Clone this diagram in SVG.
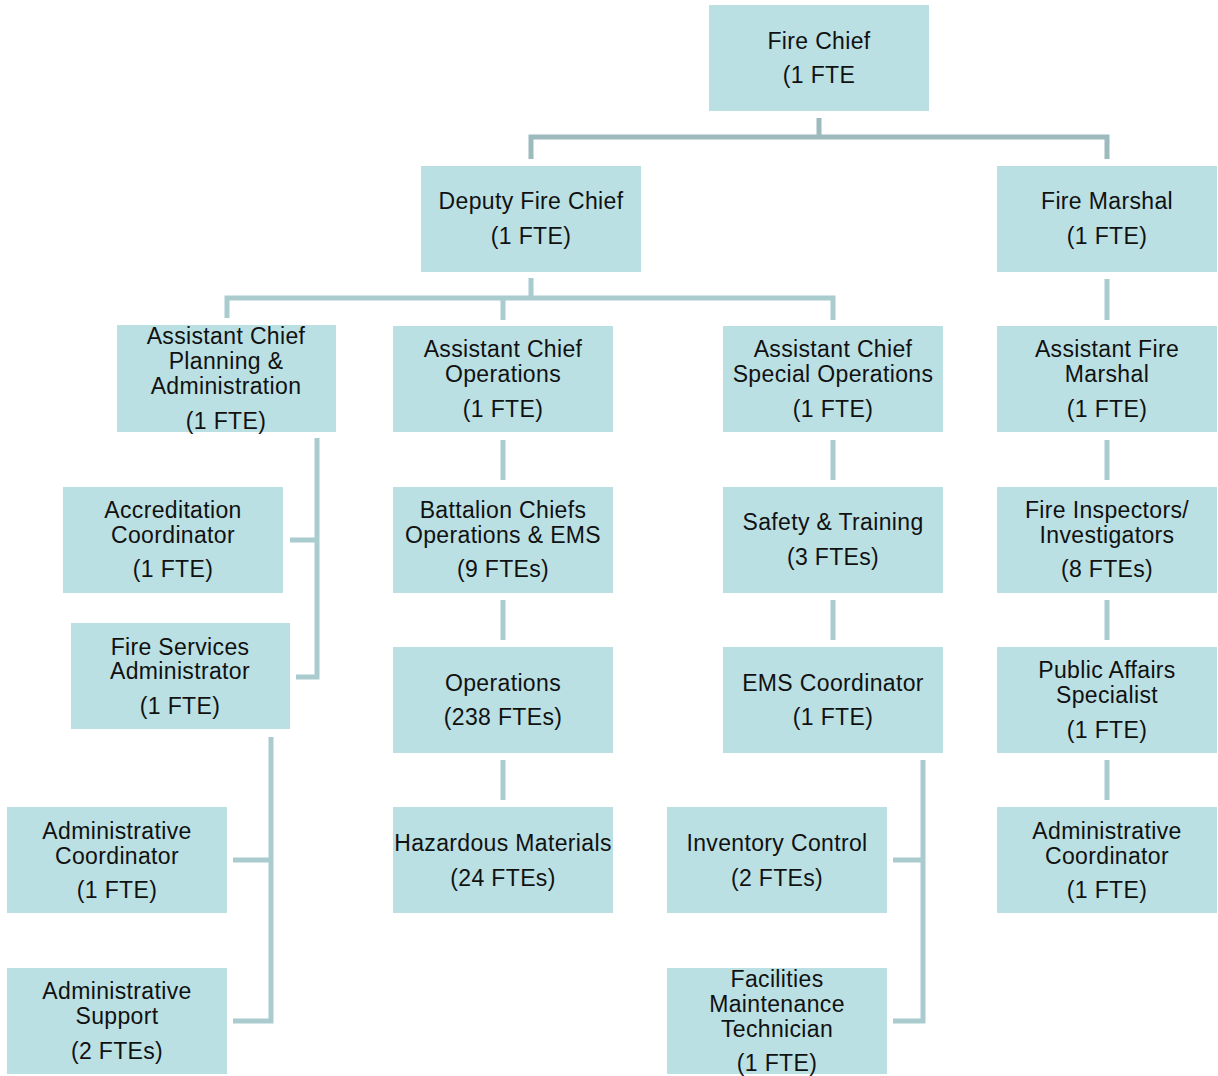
<svg xmlns="http://www.w3.org/2000/svg" width="1218" height="1076" viewBox="0 0 1218 1076">
<style>
.b{fill:#bae0e3}
.t{font-family:"Liberation Sans",Arial,sans-serif;font-size:23px;letter-spacing:0.35px;fill:#111;text-anchor:middle}
.c{fill:none;stroke:#aacccf;stroke-width:5}
.c0{fill:none;stroke:#9dbabe;stroke-width:5}
</style>
<rect width="1218" height="1076" fill="#fff"/>
<g id="connectors">
<path class="c0" d="M819 118V137M531 159V137H1107V159"/>
<path class="c" d="M531 278V298M227 318V298H833V320M503 298V320"/>
<path class="c" d="M1107 279V320M1107 440V480M1107 600V640M1107 760V800"/>
<path class="c" d="M503 440V480M503 600V640M503 760V800"/>
<path class="c" d="M833 440V480M833 600V640"/>
<path class="c" d="M317 438V677H296M317 540H290"/>
<path class="c" d="M271 737V1021H233M271 860H233"/>
<path class="c" d="M923 760V1021H893M923 860H893"/>
</g>
<g id="fire-chief"><rect class="b" x="709" y="5" width="220" height="106"/><text class="t" x="819" y="49">Fire Chief</text><text class="t" x="819" y="83">(1 FTE</text></g>
<g id="deputy-fire-chief"><rect class="b" x="421" y="166" width="220" height="106"/><text class="t" x="531" y="209">Deputy Fire Chief</text><text class="t" x="531" y="244">(1 FTE)</text></g>
<g id="fire-marshal"><rect class="b" x="997" y="166" width="220" height="106"/><text class="t" x="1107" y="209">Fire Marshal</text><text class="t" x="1107" y="244">(1 FTE)</text></g>
<g id="ac-planning"><rect class="b" x="117" y="325" width="219" height="107"/><text class="t" x="226" y="344">Assistant Chief</text><text class="t" x="226" y="369">Planning &amp;</text><text class="t" x="226" y="394">Administration</text><text class="t" x="226" y="429">(1 FTE)</text></g>
<g id="ac-operations"><rect class="b" x="393" y="326" width="220" height="106"/><text class="t" x="503" y="357">Assistant Chief</text><text class="t" x="503" y="382">Operations</text><text class="t" x="503" y="417">(1 FTE)</text></g>
<g id="ac-special"><rect class="b" x="723" y="326" width="220" height="106"/><text class="t" x="833" y="357">Assistant Chief</text><text class="t" x="833" y="382">Special Operations</text><text class="t" x="833" y="417">(1 FTE)</text></g>
<g id="asst-fire-marshal"><rect class="b" x="997" y="326" width="220" height="106"/><text class="t" x="1107" y="357">Assistant Fire</text><text class="t" x="1107" y="382">Marshal</text><text class="t" x="1107" y="417">(1 FTE)</text></g>
<g id="accreditation"><rect class="b" x="63" y="487" width="220" height="106"/><text class="t" x="173" y="518">Accreditation</text><text class="t" x="173" y="543">Coordinator</text><text class="t" x="173" y="577">(1 FTE)</text></g>
<g id="battalion"><rect class="b" x="393" y="487" width="220" height="106"/><text class="t" x="503" y="518">Battalion Chiefs</text><text class="t" x="503" y="543">Operations &amp; EMS</text><text class="t" x="503" y="577">(9 FTEs)</text></g>
<g id="safety"><rect class="b" x="723" y="487" width="220" height="106"/><text class="t" x="833" y="530">Safety &amp; Training</text><text class="t" x="833" y="565">(3 FTEs)</text></g>
<g id="inspectors"><rect class="b" x="997" y="487" width="220" height="106"/><text class="t" x="1107" y="518">Fire Inspectors/</text><text class="t" x="1107" y="543">Investigators</text><text class="t" x="1107" y="577">(8 FTEs)</text></g>
<g id="fire-services-admin"><rect class="b" x="71" y="623" width="219" height="106"/><text class="t" x="180" y="655">Fire Services</text><text class="t" x="180" y="679">Administrator</text><text class="t" x="180" y="714">(1 FTE)</text></g>
<g id="operations"><rect class="b" x="393" y="647" width="220" height="106"/><text class="t" x="503" y="691">Operations</text><text class="t" x="503" y="725">(238 FTEs)</text></g>
<g id="ems"><rect class="b" x="723" y="647" width="220" height="106"/><text class="t" x="833" y="691">EMS Coordinator</text><text class="t" x="833" y="725">(1 FTE)</text></g>
<g id="public-affairs"><rect class="b" x="997" y="647" width="220" height="106"/><text class="t" x="1107" y="678">Public Affairs</text><text class="t" x="1107" y="703">Specialist</text><text class="t" x="1107" y="738">(1 FTE)</text></g>
<g id="admin-coord-left"><rect class="b" x="7" y="807" width="220" height="106"/><text class="t" x="117" y="839">Administrative</text><text class="t" x="117" y="864">Coordinator</text><text class="t" x="117" y="898">(1 FTE)</text></g>
<g id="hazmat"><rect class="b" x="393" y="807" width="220" height="106"/><text class="t" x="503" y="851">Hazardous Materials</text><text class="t" x="503" y="886">(24 FTEs)</text></g>
<g id="inventory"><rect class="b" x="667" y="807" width="220" height="106"/><text class="t" x="777" y="851">Inventory Control</text><text class="t" x="777" y="886">(2 FTEs)</text></g>
<g id="admin-coord-right"><rect class="b" x="997" y="807" width="220" height="106"/><text class="t" x="1107" y="839">Administrative</text><text class="t" x="1107" y="864">Coordinator</text><text class="t" x="1107" y="898">(1 FTE)</text></g>
<g id="admin-support"><rect class="b" x="7" y="968" width="220" height="106"/><text class="t" x="117" y="999">Administrative</text><text class="t" x="117" y="1024">Support</text><text class="t" x="117" y="1059">(2 FTEs)</text></g>
<g id="facilities"><rect class="b" x="667" y="968" width="220" height="106"/><text class="t" x="777" y="987">Facilities</text><text class="t" x="777" y="1012">Maintenance</text><text class="t" x="777" y="1037">Technician</text><text class="t" x="777" y="1071">(1 FTE)</text></g>
</svg>
